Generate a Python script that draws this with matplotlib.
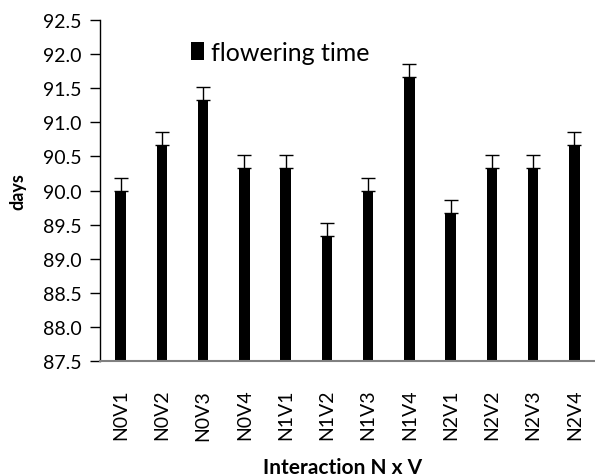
import matplotlib
matplotlib.use("Agg")
import matplotlib.pyplot as plt
import numpy as np

categories = ["N0V1", "N0V2", "N0V3", "N0V4", "N1V1", "N1V2", "N1V3", "N1V4",
              "N2V1", "N2V2", "N2V3", "N2V4"]
flowering_time = [90.0, 90.67, 91.33, 90.33, 90.33, 89.33, 90.0, 91.67,
                  89.67, 90.33, 90.33, 90.67]
errors = [0.19] * 12
yticks = [87.5, 88.0, 88.5, 89.0, 89.5, 90.0, 90.5, 91.0, 91.5, 92.0, 92.5]

plt.rcParams['font.family'] = ['Lato', 'DejaVu Sans']

fig = plt.figure(figsize=(5.95, 4.77), dpi=100)
ax = fig.add_axes([0.168, 0.241, 0.832, 0.715])

x = np.arange(len(categories))
ax.bar(x, flowering_time, width=0.25, color='black', label='flowering time',
       yerr=[np.zeros(len(errors)), errors], error_kw=dict(ecolor='black', elinewidth=1, capsize=5, capthick=1))

ax.set_ylim(87.5, 92.5)
ax.set_xlim(-0.5, len(categories) - 0.5)
ax.set_yticks(yticks)
ax.set_yticklabels([f"{v:.1f}" for v in yticks], fontsize=14)
ax.set_xticks(x)
ax.set_xticklabels(categories, rotation=90, fontsize=14)
ax.tick_params(axis='x', length=0, pad=20)
ax.tick_params(axis='y', length=7, width=1, direction='out', pad=6)

for s in ['top', 'right']:
    ax.spines[s].set_visible(False)
ax.spines['left'].set_color('black')
ax.spines['left'].set_linewidth(1)
ax.spines['bottom'].set_color('#808080')
ax.spines['bottom'].set_linewidth(1.5)

ax.set_ylabel('days', fontsize=13, fontweight='bold', labelpad=12)
fig.text(0.575, 1 - 468 / 477, 'Interaction N x V', fontsize=15, fontweight='bold',
         ha='center', va='center')

leg = ax.legend(loc='upper left', bbox_to_anchor=(0.148, 0.99), frameon=False, fontsize=18,
                handlelength=0.55, handleheight=0.75, handletextpad=0.25, borderpad=0.2)

fig.savefig('out.png', dpi=100)
